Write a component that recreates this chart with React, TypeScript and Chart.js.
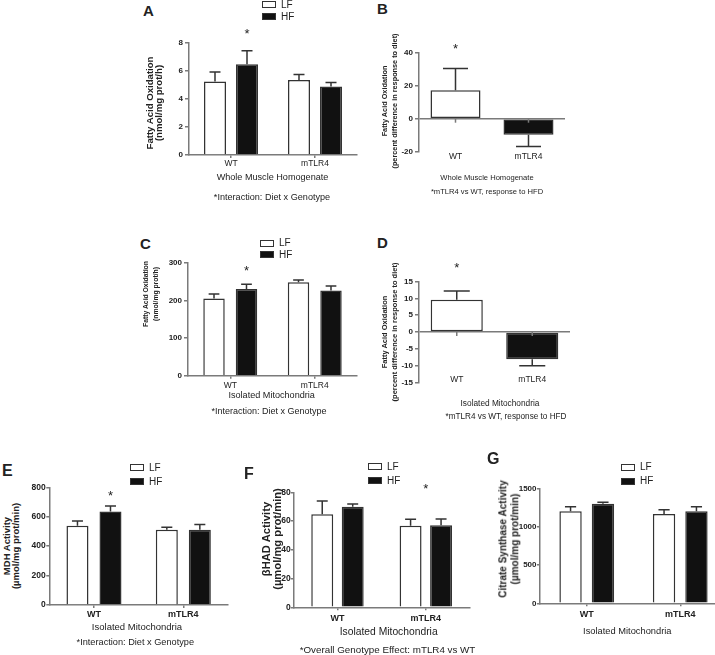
import React, { useEffect, useRef } from "react";
import { Chart, registerables } from "chart.js";

Chart.register(...registerables);

const FONT = "'Liberation Sans', Arial, Helvetica, sans-serif";
const AXIS = "#7a7a7a";
const INK = "#222222";
const EDGE = "#333333";
const WHITE = "#ffffff";
const BLACK = "#111111";

// ---------- data ----------
const genotypes = ["WT", "mTLR4"];
const dietLabels = ["LF", "HF"];

// A: whole muscle homogenate, FAO (nmol/mg prot/h)
const aLF = [5.25, 5.35];
const aLFErr = [0.67, 0.4];
const aHF = [6.49, 4.89];
const aHFErr = [0.96, 0.29];

// B: percent difference in response to diet (whole muscle)
const bDiff = [17.3, -9.7];
const bErr = [13.2, 7.2];

// C: isolated mitochondria, FAO (nmol/mg prot/h)
const cLF = [205, 248];
const cLFErr = [12, 6];
const cHF = [230, 226];
const cHFErr = [12.5, 12];

// D: percent difference in response to diet (mitochondria)
const dDiff = [9.6, -8.1];
const dErr = [2.6, 2.0];

// E: MDH activity
const eLF = [539, 512];
const eLFErr = [32, 16];
const eHF = [635, 512];
const eHFErr = [38, 36];

// F: bHAD activity
const fLF = [64.7, 56.8];
const fLFErr = [9.3, 4.4];
const fHF = [70, 57];
const fHFErr = [1.9, 4.4];

// G: citrate synthase activity
const gLF = [1207, 1172];
const gLFErr = [61, 57];
const gHF = [1308, 1207];
const gHFErr = [17, 61];

// ---------- plugin: error bars, star, zero-line ticks, category labels ----------
const errPlugin = {
  id: "errbars",
  afterDatasetsDraw(chart: any, _args: any, opts: any) {
    const ctx = chart.ctx;
    const ys = chart.scales.y;
    const xs = chart.scales.x;
    const tops: number[][] = [];
    chart.data.datasets.forEach((ds: any, di: number) => {
      const meta = chart.getDatasetMeta(di);
      tops[di] = [];
      meta.data.forEach((bar: any, i: number) => {
        const v = ds.data[i];
        const e = ds.errors ? ds.errors[i] : 0;
        const end = v >= 0 ? v + e : v - e;
        const y0 = ys.getPixelForValue(v);
        const y1 = ys.getPixelForValue(end);
        tops[di][i] = Math.min(y0, y1);
        const half = (bar.width * 0.5) / 2;
        ctx.save();
        ctx.strokeStyle = EDGE;
        ctx.lineWidth = 1.5;
        ctx.beginPath();
        ctx.moveTo(bar.x, y0);
        ctx.lineTo(bar.x, y1);
        ctx.moveTo(bar.x - half, y1);
        ctx.lineTo(bar.x + half, y1);
        ctx.stroke();
        ctx.restore();
      });
    });
    if (opts && opts.diffLabels) {
      const y0 = ys.getPixelForValue(0);
      ctx.save();
      ctx.strokeStyle = AXIS;
      ctx.lineWidth = 1.5;
      chart.data.labels.forEach((_l: any, i: number) => {
        const x = xs.getPixelForValue(i);
        ctx.beginPath();
        ctx.moveTo(x, y0);
        ctx.lineTo(x, y0 + 4);
        ctx.stroke();
      });
      ctx.fillStyle = INK;
      ctx.font = `${opts.diffLabels.size}px ${FONT}`;
      ctx.textAlign = "center";
      ctx.textBaseline = "alphabetic";
      chart.data.labels.forEach((l: any, i: number) => {
        const x = xs.getPixelForValue(i);
        ctx.fillText(l, x, chart.chartArea.bottom + opts.diffLabels.dy + 0.358 * opts.diffLabels.size);
      });
      ctx.restore();
    }
    if (opts && opts.star) {
      const s = opts.star;
      let x: number;
      let top: number;
      if (s.ds === null) {
        x = xs.getPixelForValue(s.index);
        top = Math.min(...tops.map((t) => t[s.index]));
      } else {
        x = chart.getDatasetMeta(s.ds).data[s.index].x;
        top = tops[s.ds][s.index];
      }
      const cy = top + s.dy;
      const size = 13;
      ctx.save();
      ctx.fillStyle = INK;
      ctx.font = `${size}px ${FONT}`;
      ctx.textAlign = "center";
      ctx.textBaseline = "alphabetic";
      ctx.fillText("*", x, cy + 0.57 * size);
      ctx.restore();
    }
  },
};

type Series = { label: string; data: number[]; err: number[]; fill: string | string[] };
type Spec = {
  L: number; R: number; T: number; B: number;
  yMin: number; yMax: number; step: number;
  series: Series[];
  catPct: number; barPct: number;
  tickSize: number; tickLen: number; tickPad: number;
  xSize: number; xBold: boolean; xPad: number;
  diff?: { dy: number; size: number };
  star?: { index: number; ds: number | null; dy: number };
};

function BarPanel({ spec }: { spec: Spec }) {
  const ref = useRef<HTMLCanvasElement>(null);
  const left = Math.floor(spec.L) - 28;
  const top = Math.floor(spec.T) - 32;
  const right = Math.ceil(spec.R) + 4;
  const bottom = Math.ceil(spec.B) + 20;
  const w = right - left;
  const h = bottom - top;
  useEffect(() => {
    const yW = spec.L - left;
    const pt = spec.T - top;
    const pr = right - spec.R;
    const xH = bottom - spec.B;
    const diff = !!spec.diff;
    const chart = new Chart(ref.current as HTMLCanvasElement, {
      type: "bar",
      data: {
        labels: genotypes,
        datasets: spec.series.map((s) => ({
          label: s.label,
          data: s.data,
          errors: s.err,
          backgroundColor: s.fill,
          borderColor: EDGE,
          borderWidth: 1.5,
          borderSkipped: diff ? false : "start",
          barPercentage: spec.barPct,
          categoryPercentage: spec.catPct,
        })) as any,
      },
      options: {
        responsive: false,
        animation: false,
        devicePixelRatio: 1,
        layout: { padding: { top: pt, right: pr, left: 0, bottom: 0 } },
        plugins: {
          legend: { display: false },
          tooltip: { enabled: false },
          errbars: { diffLabels: spec.diff, star: spec.star },
        } as any,
        scales: {
          x: {
            z: 1,
            grid: diff
              ? { display: false, drawTicks: false, tickLength: 0 }
              : { display: true, drawOnChartArea: false, drawTicks: true, tickLength: 3, offset: false, color: AXIS, lineWidth: 1.5 },
            border: diff ? { display: false } : { color: AXIS, width: 1.5 },
            ticks: {
              display: !diff,
              font: { family: FONT, size: spec.xSize, weight: spec.xBold ? "bold" : "normal" },
              color: INK,
              padding: spec.xPad,
            },
            afterFit: (s: any) => { s.height = xH; },
          } as any,
          y: {
            min: spec.yMin,
            max: spec.yMax,
            ticks: {
              stepSize: spec.step,
              font: { family: FONT, size: spec.tickSize, weight: "bold" },
              color: INK,
              padding: spec.tickPad,
              callback: (v: any) => String(v),
            },
            grid: {
              drawOnChartArea: diff,
              color: diff ? (c: any) => (c.tick && c.tick.value === 0 ? AXIS : "rgba(0,0,0,0)") : AXIS,
              tickColor: AXIS,
              tickLength: spec.tickLen,
              lineWidth: 1.5,
            },
            border: { color: AXIS, width: 1.5 },
            afterFit: (s: any) => { s.width = yW; },
          } as any,
        },
      },
      plugins: [errPlugin as any],
    });
    return () => chart.destroy();
  }, []);
  return (
    <canvas
      ref={ref}
      width={w}
      height={h}
      style={{ position: "absolute", left, top, width: w, height: h }}
    />
  );
}

// ---------- text helpers ----------
function Txt({ x, y, size, bold, center, children }: any) {
  return (
    <div
      style={{
        position: "absolute",
        left: x,
        top: y - 0.8465 * size,
        fontFamily: FONT,
        fontSize: size,
        lineHeight: `${size}px`,
        fontWeight: bold ? "bold" : "normal",
        color: INK,
        whiteSpace: "nowrap",
        transform: center ? "translateX(-50%)" : undefined,
      }}
    >
      {children}
    </div>
  );
}

function VTitle({ cx, cy, size, gap, lines, sx = 1 }: any) {
  return (
    <div
      style={{
        position: "absolute",
        left: cx,
        top: cy,
        transform: `translate(-50%, -50%) rotate(-90deg) scale(${sx}, 1)`,
        fontFamily: FONT,
        fontSize: size,
        lineHeight: `${gap}px`,
        fontWeight: "bold",
        color: INK,
        whiteSpace: "nowrap",
        textAlign: "center",
      }}
    >
      {lines.map((l: string, i: number) => (
        <div key={i}>{l}</div>
      ))}
    </div>
  );
}

function Legend({ x, y, gap }: any) {
  return (
    <>
      {dietLabels.map((d, i) => (
        <React.Fragment key={d}>
          <div
            style={{
              position: "absolute",
              left: x,
              top: y + i * gap,
              width: 14,
              height: 7,
              boxSizing: "border-box",
              border: `1px solid ${EDGE}`,
              background: i === 0 ? WHITE : BLACK,
            }}
          />
          <Txt x={x + 19} y={y + i * gap + 3.5 + 3.6} size={10}>
            {d}
          </Txt>
        </React.Fragment>
      ))}
    </>
  );
}

// ---------- panel specs ----------
const specA: Spec = {
  L: 189, R: 357, T: 43, B: 155, yMin: 0, yMax: 8, step: 2,
  series: [
    { label: "LF", data: aLF, err: aLFErr, fill: WHITE },
    { label: "HF", data: aHF, err: aHFErr, fill: BLACK },
  ],
  catPct: 0.762, barPct: 0.6875, tickSize: 8, tickLen: 4, tickPad: 2,
  xSize: 8.5, xBold: false, xPad: 1,
  star: { index: 0, ds: 1, dy: -20 },
};
const specB: Spec = {
  L: 419, R: 565, T: 52.7, B: 151.7, yMin: -20, yMax: 40, step: 20,
  series: [{ label: "diff", data: bDiff, err: bErr, fill: [WHITE, BLACK] }],
  catPct: 1, barPct: 0.685, tickSize: 8, tickLen: 4, tickPad: 2,
  xSize: 8.5, xBold: false, xPad: 0,
  diff: { dy: 4.5, size: 8.5 }, star: { index: 0, ds: 0, dy: -23 },
};
const specC: Spec = {
  L: 188, R: 357, T: 262.7, B: 375.7, yMin: 0, yMax: 300, step: 100,
  series: [
    { label: "LF", data: cLF, err: cLFErr, fill: WHITE },
    { label: "HF", data: cHF, err: cHFErr, fill: BLACK },
  ],
  catPct: 0.769, barPct: 0.66, tickSize: 8, tickLen: 4, tickPad: 2,
  xSize: 8.5, xBold: false, xPad: 2,
  star: { index: 0, ds: 1, dy: -17 },
};
const specD: Spec = {
  L: 419, R: 570, T: 281.7, B: 382.3, yMin: -15, yMax: 15, step: 5,
  series: [{ label: "diff", data: dDiff, err: dErr, fill: [WHITE, BLACK] }],
  catPct: 1, barPct: 0.69, tickSize: 8, tickLen: 4, tickPad: 2,
  xSize: 8.5, xBold: false, xPad: 0,
  diff: { dy: -3.3, size: 8.5 }, star: { index: 0, ds: 0, dy: -26 },
};
const specE: Spec = {
  L: 49.3, R: 228, T: 487.3, B: 605, yMin: 0, yMax: 800, step: 200,
  series: [
    { label: "LF", data: eLF, err: eLFErr, fill: WHITE },
    { label: "HF", data: eHF, err: eHFErr, fill: BLACK },
  ],
  catPct: 0.739, barPct: 0.667, tickSize: 8.5, tickLen: 3, tickPad: 0.5,
  xSize: 9, xBold: true, xPad: 1.6,
  star: { index: 0, ds: 1, dy: -13 },
};
const specF: Spec = {
  L: 293.3, R: 470, T: 492.3, B: 607.3, yMin: 0, yMax: 80, step: 20,
  series: [
    { label: "LF", data: fLF, err: fLFErr, fill: WHITE },
    { label: "HF", data: fHF, err: fHFErr, fill: BLACK },
  ],
  catPct: 0.69, barPct: 0.72, tickSize: 8.5, tickLen: 2.5, tickPad: 0,
  xSize: 9, xBold: true, xPad: 2.6,
  star: { index: 1, ds: null, dy: -33 },
};
const specG: Spec = {
  L: 540, R: 727, T: 489, B: 603.3, yMin: 0, yMax: 1500, step: 500,
  series: [
    { label: "LF", data: gLF, err: gLFErr, fill: WHITE },
    { label: "HF", data: gHF, err: gHFErr, fill: BLACK },
  ],
  catPct: 0.693, barPct: 0.69, tickSize: 8, tickLen: 3, tickPad: 0.5,
  xSize: 9, xBold: true, xPad: 3.3,
};

export default function App() {
  return (
    <div
      style={{
        position: "fixed",
        left: 0,
        top: 0,
        width: 715,
        height: 655,
        overflow: "hidden",
        background: "#ffffff",
      }}
    >
      <BarPanel spec={specA} />
      <BarPanel spec={specB} />
      <BarPanel spec={specC} />
      <BarPanel spec={specD} />
      <BarPanel spec={specE} />
      <BarPanel spec={specF} />
      <BarPanel spec={specG} />

      {/* panel letters */}
      <Txt x={143} y={16} size={15} bold>A</Txt>
      <Txt x={377} y={14} size={15} bold>B</Txt>
      <Txt x={140} y={248.3} size={15} bold>C</Txt>
      <Txt x={377} y={248} size={15} bold>D</Txt>
      <Txt x={2} y={476.7} size={16} bold>E</Txt>
      <Txt x={244} y={480} size={16} bold>F</Txt>
      <Txt x={487} y={465} size={16} bold>G</Txt>

      {/* legends */}
      <Legend x={262} y={1} gap={12} />
      <Legend x={260} y={239.5} gap={11.5} />
      <Legend x={130} y={464} gap={14} />
      <Legend x={368} y={463} gap={14} />
      <Legend x={621} y={463.5} gap={14} />

      {/* y-axis titles */}
      <VTitle cx={154.6} cy={102.5} size={9.6} gap={8.7} lines={["Fatty Acid Oxidation", "(nmol/mg prot/h)"]} />
      <VTitle cx={390} cy={100.5} size={7.3} gap={10} lines={["Fatty Acid Oxidation", "(percent difference in response to diet)"]} />
      <VTitle cx={151.2} cy={294.2} size={6.8} gap={10.3} lines={["Fatty Acid Oxidation", "(nmol/mg prot/h)"]} />
      <VTitle cx={390} cy={331.7} size={7.5} gap={10} lines={["Fatty Acid Oxidation", "(percent difference in response to diet)"]} />
      <VTitle cx={11.3} cy={546.3} size={9.5} gap={9.3} lines={["MDH Activity", "(µmol/mg prot/min)"]} />
      <VTitle cx={271.8} cy={538.7} size={10} gap={11.4} sx={1.12} lines={["βHAD Activity", "(µmol/mg prot/min)"]} />
      <VTitle cx={509} cy={539.2} size={10} gap={11.7} lines={["Citrate Synthase Activity", "(µmol/mg prot/min)"]} />

      {/* captions */}
      <Txt x={272.5} y={180.5} size={9.1} center>Whole Muscle Homogenate</Txt>
      <Txt x={272} y={201} size={9.1} center>*Interaction: Diet x Genotype</Txt>
      <Txt x={487} y={180.5} size={7.6} center>Whole Muscle Homogenate</Txt>
      <Txt x={487} y={194} size={7.6} center>*mTLR4 vs WT, response to HFD</Txt>
      <Txt x={271.7} y={398.3} size={9.1} center>Isolated Mitochondria</Txt>
      <Txt x={269} y={415} size={9} center>*Interaction: Diet x Genotype</Txt>
      <Txt x={500} y={405.7} size={8.3} center>Isolated Mitochondria</Txt>
      <Txt x={506} y={419.7} size={8.2} center>*mTLR4 vs WT, response to HFD</Txt>
      <Txt x={137} y={630} size={9.5} center>Isolated Mitochondria</Txt>
      <Txt x={135.3} y={646} size={9.2} center>*Interaction: Diet x Genotype</Txt>
      <Txt x={388.7} y={635.5} size={10.3} center>Isolated Mitochondria</Txt>
      <Txt x={387.5} y={653} size={9.8} center>*Overall Genotype Effect: mTLR4 vs WT</Txt>
      <Txt x={627.3} y={635} size={9.3} center>Isolated Mitochondria</Txt>
    </div>
  );
}
